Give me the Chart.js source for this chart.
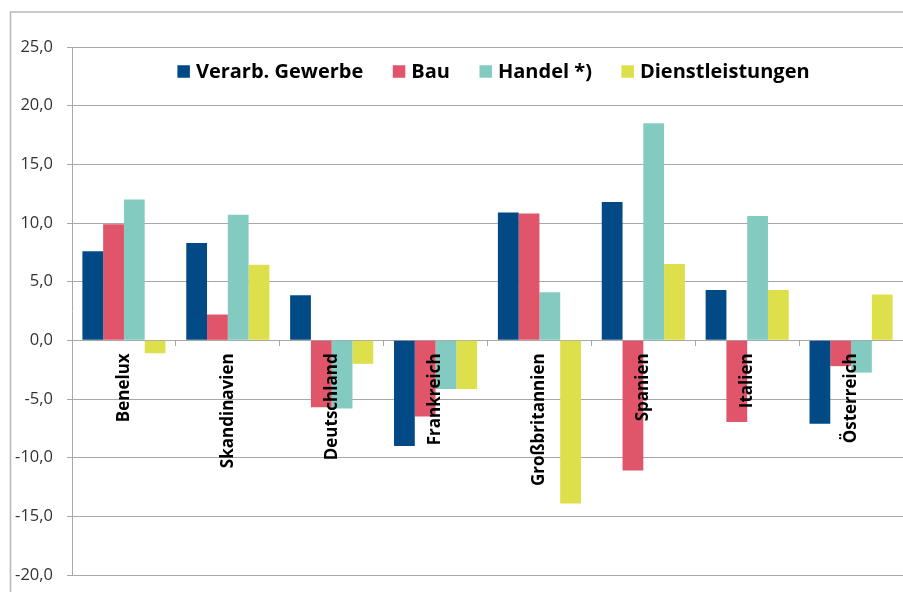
<!DOCTYPE html>
<html>
<head>
<meta charset="utf-8">
<script src="https://cdn.jsdelivr.net/npm/chart.js@4/dist/chart.umd.min.js"></script>
<style>
  html, body { margin: 0; padding: 0; background: #fff; }
  #wrap { position: relative; width: 903px; height: 592px; }
</style>
</head>
<body>
<div id="wrap"><canvas id="chart" width="903" height="592"></canvas></div>
<script>
// Data
const regions = ['Benelux', 'Skandinavien', 'Deutschland', 'Frankreich', 'Großbritannien', 'Spanien', 'Italien', 'Österreich'];
const seriesNames = ['Verarb. Gewerbe', 'Bau', 'Handel *)', 'Dienstleistungen'];
const verarbGewerbe = [7.6, 8.3, 3.85, -9.0, 10.9, 11.8, 4.3, -7.1];
const bau = [9.9, 2.2, -5.7, -6.5, 10.8, -11.1, -6.95, -2.2];
const handel = [12.0, 10.7, -5.8, -4.15, 4.1, 18.5, 10.6, -2.75];
const dienstleistungen = [-1.1, 6.45, -2.0, -4.15, -13.9, 6.5, 4.3, 3.9];
const yTicks = [-20, -15, -10, -5, 0, 5, 10, 15, 20, 25];

const colors = ['#024a86', '#e0556a', '#83cbc1', '#dde04a'];
const gridGray = '#a8a8a8';

// light frame around the chart (runs off to the right and bottom)
const framePlugin = {
    id: 'frame',
    beforeDraw(chart) {
        const ctx = chart.ctx;
        ctx.save();
        ctx.strokeStyle = '#b8b8b8';
        ctx.lineWidth = 1.5;
        ctx.beginPath();
        ctx.moveTo(chart.width + 2, 12);
        ctx.lineTo(10.5, 12);
        ctx.lineTo(10.5, chart.height + 2);
        ctx.stroke();
        ctx.restore();
    }
};

// legend sits inside the plot area, top centre
const innerLegend = {
    id: 'innerLegend',
    afterDatasetsDraw(chart) {
        const ctx = chart.ctx;
        const area = chart.chartArea;
        const box = 12.5, gap = 6, itemGap = 29.5;
        ctx.save();
        ctx.font = 'bold 20px "Open Sans"';
        ctx.textBaseline = 'middle';
        const items = chart.data.datasets.map(ds => ({
            label: ds.label, color: ds.backgroundColor, w: ctx.measureText(ds.label).width
        }));
        let total = items.reduce((s, it) => s + box + gap + it.w, 0) + itemGap * (items.length - 1);
        let x = (area.left + area.right) / 2 + 6 - total / 2;
        const y = 71.5;
        items.forEach(it => {
            ctx.fillStyle = it.color;
            ctx.fillRect(x, y - box / 2, box, box);
            ctx.fillStyle = '#000';
            ctx.fillText(it.label, x + box + gap, y + 1);
            x += box + gap + it.w + itemGap;
        });
        ctx.restore();
    }
};

const seriesData = [verarbGewerbe, bau, handel, dienstleistungen];

new Chart(document.getElementById('chart'), {
    type: 'bar',
    data: {
        labels: regions,
        datasets: seriesNames.map((name, i) => ({
            label: name,
            data: seriesData[i],
            backgroundColor: colors[i],
            borderWidth: 0,
            categoryPercentage: 0.8,
            barPercentage: 1.0
        }))
    },
    options: {
        responsive: false,
        animation: false,
        layout: { padding: { left: 0, top: 47, right: 0, bottom: 17 } },
        plugins: {
            legend: { display: false },
            tooltip: { enabled: false }
        },
        scales: {
            x: {
                position: { y: 0 },
                afterFit(scale) {
                    // axis sits on the zero line, so it should not push the plot edges
                    scale.paddingTop = 0;
                    scale.paddingBottom = 0;
                    scale.paddingLeft = 0;
                    scale.paddingRight = 0;
                },
                grid: {
                    offset: true,
                    drawOnChartArea: false,
                    drawTicks: true,
                    tickLength: 5,
                    color: gridGray
                },
                border: { display: true, color: gridGray, width: 1 },
                ticks: {
                    z: 1,
                    autoSkip: false,
                    minRotation: 90,
                    maxRotation: 90,
                    padding: 8,
                    color: '#000',
                    font: { family: '"Open Sans"', size: 17, weight: 'bold' }
                }
            },
            y: {
                min: -20,
                max: 25,
                afterBuildTicks(scale) {
                    scale.ticks = yTicks.map(v => ({ value: v }));
                },
                afterFit(scale) {
                    scale.width = 72;
                    scale.paddingTop = 0;
                    scale.paddingBottom = 0;
                },
                grid: { color: gridGray, lineWidth: 1, tickLength: 5 },
                border: { display: true, color: gridGray, width: 1 },
                ticks: {
                    padding: 14,
                    color: '#333',
                    font: { family: '"Open Sans"', size: 16.5 },
                    callback: v => v.toFixed(1).replace('.', ',')
                }
            }
        }
    },
    plugins: [framePlugin, innerLegend]
});
</script>
</body>
</html>
